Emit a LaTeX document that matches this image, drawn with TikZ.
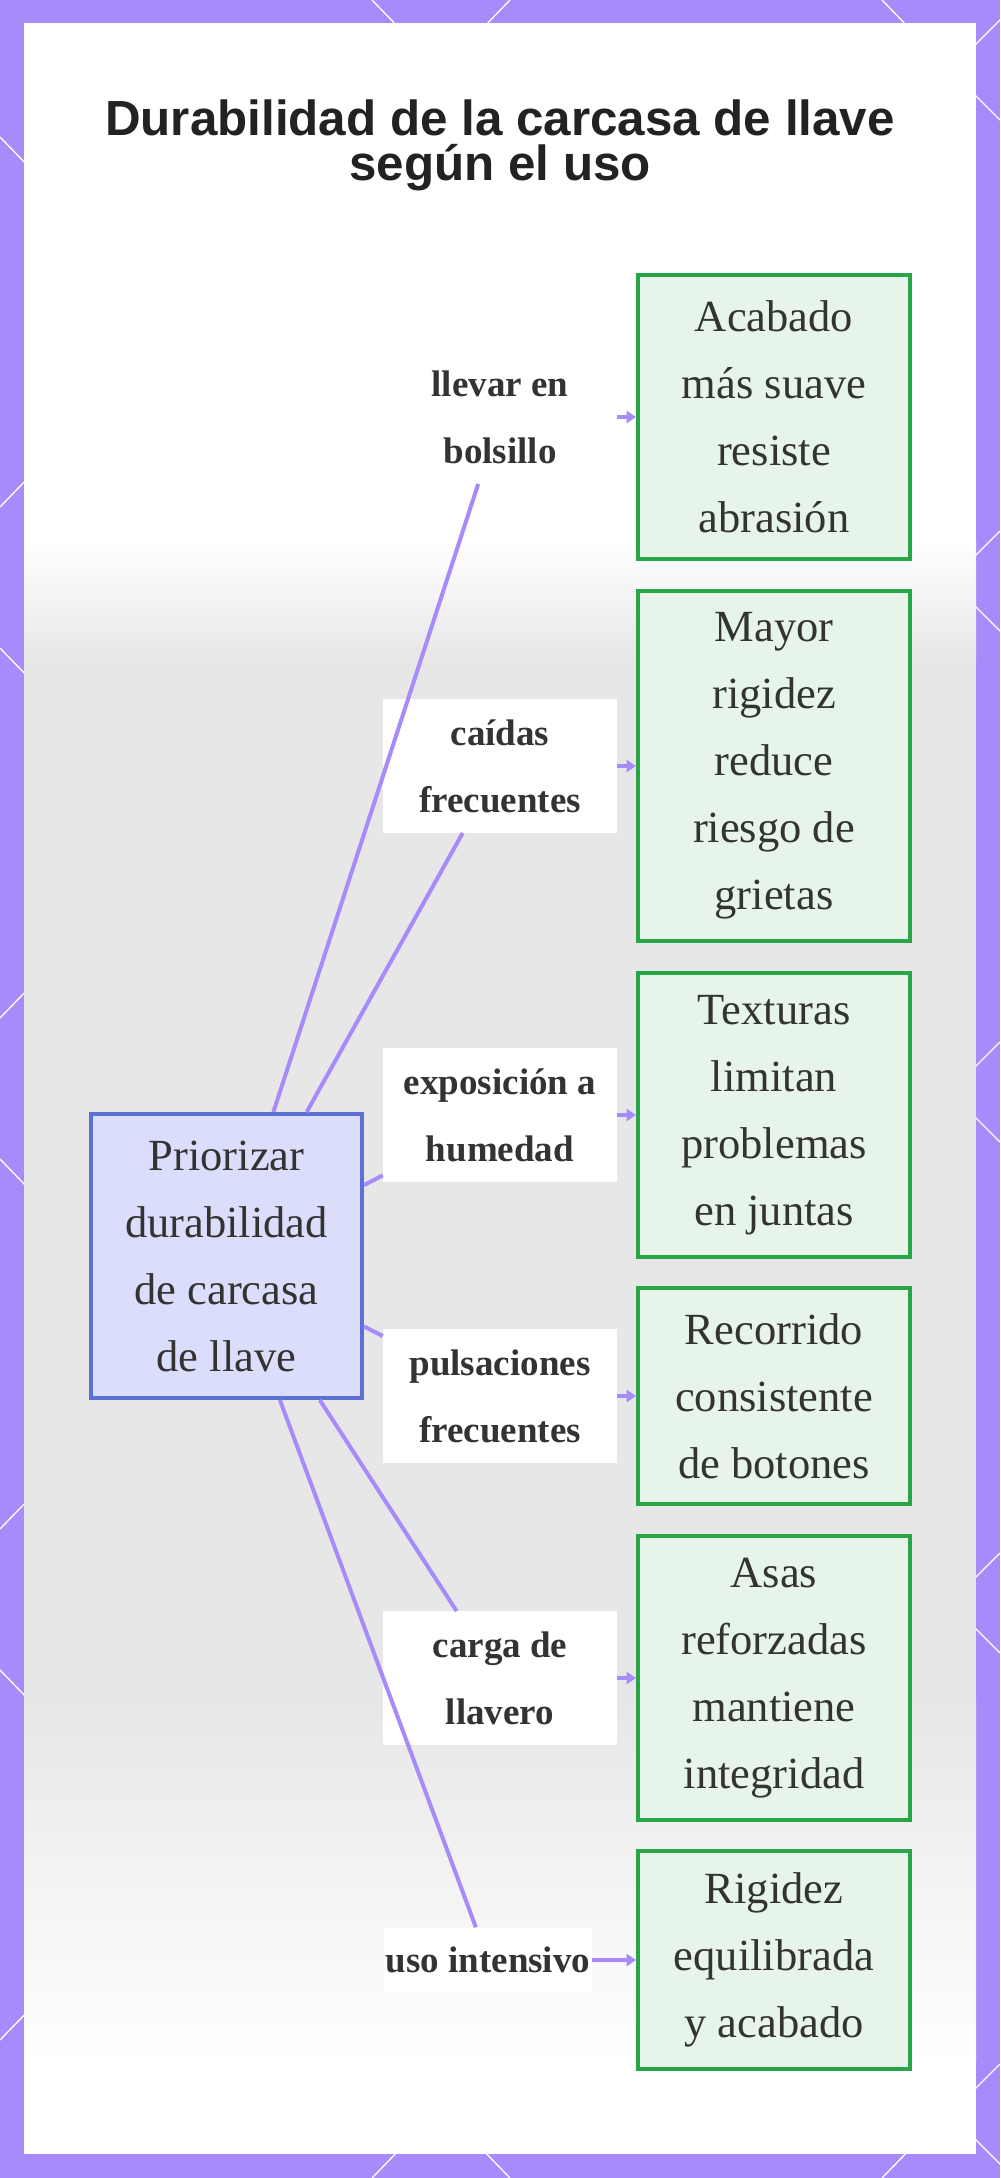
\documentclass[tikz,border=0pt]{standalone}
\usepackage{fontspec}
\setmainfont{Liberation Serif}
\newfontfamily\titlefont{Liberation Sans}
\usepackage{tikz}
\usetikzlibrary{arrows.meta}
\definecolor{FrameViolet}{RGB}{167,139,250}
\definecolor{LinkViolet}{RGB}{167,139,250}
\definecolor{RootFill}{RGB}{218,222,251}
\definecolor{RootBorder}{RGB}{92,112,214}
\definecolor{EffectFill}{RGB}{230,244,233}
\definecolor{EffectBorder}{RGB}{40,165,70}
\definecolor{InkGray}{RGB}{51,51,51}
\definecolor{TitleInk}{RGB}{34,34,34}
\definecolor{PhotoGray}{RGB}{231,231,231}
\tikzset{
  titulo/.style={anchor=north, align=center, inner sep=0pt, text=TitleInk,
                font=\titlefont\fontsize{37}{34}\selectfont\bfseries},
  raiz/.style={draw=RootBorder, fill=RootFill, line width=3pt, align=center, text=InkGray,
                font=\fontsize{33.4}{50.25}\selectfont, inner sep=0pt,
                minimum width=203pt, minimum height=213pt},
  efecto/.style={draw=EffectBorder, fill=EffectFill, line width=3pt, align=center, text=InkGray,
                font=\fontsize{33.4}{50.25}\selectfont, inner sep=0pt, minimum width=204pt},
  uso/.style={fill=white, align=center, text=InkGray, inner sep=0pt,
                font=\fontsize{27.75}{50.25}\selectfont\bfseries,
                minimum width=175.5pt, minimum height=100pt},
  % one line style from the root to each use, one arrow style from use to effect
  rama/.style={LinkViolet, line width=3pt},
  flecha/.style={-{Stealth[length=7pt,width=9pt,inset=0pt]}, LinkViolet, line width=3pt},
  hexa/.style={white, line width=1pt},
}

\begin{document}
\begin{tikzpicture}[x=0.75pt, y=-0.75pt]
  \useasboundingbox (0,0) rectangle (1000,2178);

  % --- Marco violeta con trama hexagonal ---------------------------------------
  \fill[FrameViolet] (0,0) rectangle (1000,2178);
  \draw[hexa] (372,0) -- (402,31);   \draw[hexa] (510,0) -- (480,31);   \draw[hexa] (882,0) -- (912,31);
  \draw[hexa] (372,2178) -- (402,2147); \draw[hexa] (510,2178) -- (480,2147); \draw[hexa] (882,2178) -- (912,2147);
  \draw[hexa] (0,137) -- (30,168);   \draw[hexa] (0,507) -- (30,476);
  \draw[hexa] (0,648) -- (30,679);   \draw[hexa] (0,1018) -- (30,987);
  \draw[hexa] (0,1159) -- (30,1190); \draw[hexa] (0,1529) -- (30,1498);
  \draw[hexa] (0,1670) -- (30,1701); \draw[hexa] (0,2040) -- (30,2009);
  \draw[hexa] (970,50) -- (1000,20);     \draw[hexa] (970,90) -- (1000,120);
  \draw[hexa] (970,561) -- (1000,531);   \draw[hexa] (970,601) -- (1000,631);
  \draw[hexa] (970,1072) -- (1000,1042); \draw[hexa] (970,1112) -- (1000,1142);
  \draw[hexa] (970,1583) -- (1000,1553); \draw[hexa] (970,1623) -- (1000,1653);
  \draw[hexa] (970,2094) -- (1000,2064); \draw[hexa] (970,2134) -- (1000,2164);

  % --- Panel blanco y foto difuminada de fondo --------------------------------
  \fill[white] (24,23) rectangle (976,2154);
  \fill[top color=white, bottom color=PhotoGray] (24,540) rectangle (976,660);
  \fill[PhotoGray] (24,660) rectangle (976,1700);
  \fill[top color=PhotoGray, bottom color=white] (24,1700) rectangle (976,2060);

  \node[titulo] (titulo) at (500,99) {Durabilidad de la carcasa de llave\\según el uso};

  % --- Nodo raíz ----------------------------------------------------------------
  \node[raiz] (raiz) at (226.5,1256) {Priorizar\\durabilidad\\de carcasa\\de llave};

  % --- Efectos (columna derecha) ------------------------------------------------
  \node[efecto, minimum height=213pt]   (bolsillo)   at (774,417)  {Acabado\\más suave\\resiste\\abrasión};
  \node[efecto, minimum height=262.5pt] (caidas)     at (774,766)  {Mayor\\rigidez\\reduce\\riesgo de\\grietas};
  \node[efecto, minimum height=213pt]   (humedad)    at (774,1115) {Texturas\\limitan\\problemas\\en juntas};
  \node[efecto, minimum height=162pt]   (pulsaciones) at (774,1396) {Recorrido\\consistente\\de botones};
  \node[efecto, minimum height=213pt]   (llavero)    at (774,1678) {Asas\\reforzadas\\mantiene\\integridad};
  \node[efecto, minimum height=164pt]   (intensivo)  at (774,1960) {Rigidez\\equilibrada\\y acabado};

  % --- Usos (etiquetas intermedias) ---------------------------------------------
  \node[uso] (usobolsillo)    at (500,417)  {llevar en\\bolsillo};
  \node[uso] (usocaidas)      at (500,766)  {caídas\\frecuentes};
  \node[uso] (usohumedad)     at (500,1115) {exposición a\\humedad};
  \node[uso] (usopulsaciones) at (500,1396) {pulsaciones\\frecuentes};
  \node[uso] (usollavero)     at (500,1678) {carga de\\llavero};
  \node[uso, minimum width=0pt, minimum height=48.75pt, inner xsep=1pt] (usointensivo) at (488,1960) {uso intensivo};

  \draw[rama] (raiz) -- (usobolsillo);
  \draw[rama] (raiz) -- (usocaidas);
  \draw[rama] (raiz) -- (usohumedad);
  \draw[rama] (raiz) -- (usopulsaciones);
  \draw[rama] (raiz) -- (usollavero);
  \draw[rama] (raiz) -- (usointensivo);

  \draw[flecha] (usobolsillo)    -- (bolsillo);
  \draw[flecha] (usocaidas)      -- (caidas);
  \draw[flecha] (usohumedad)     -- (humedad);
  \draw[flecha] (usopulsaciones) -- (pulsaciones);
  \draw[flecha] (usollavero)     -- (llavero);
  \draw[flecha] (usointensivo)   -- (intensivo);

\end{tikzpicture}
\end{document}
